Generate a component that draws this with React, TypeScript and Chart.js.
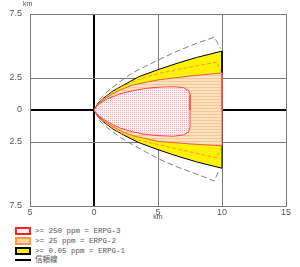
import React, { useEffect, useRef } from 'react';
import { Chart, registerables } from 'chart.js';

Chart.register(...registerables);

// axis ticks
const xTickValues = [-5, 0, 5, 10, 15];
const yTickValues = [-7.5, -2.5, 0, 2.5, 7.5];

// ERPG-1 (yellow) outer edge
const erpg1X = [0, 0.3, 0.7, 1.5, 2.5, 3.5, 5, 6.5, 8, 10, 10];
const erpg1Top = [0, 0.5, 0.9, 1.5, 2.05, 2.6, 3.15, 3.65, 4.1, 4.6, 0];
const erpg1Bottom = [0, -0.5, -0.9, -1.5, -2.05, -2.55, -3.1, -3.6, -4.05, -4.55, 0];

// ERPG-2 (orange) edge
const erpg2X = [0, 0.3, 1, 2, 3, 5, 7.5, 10, 10];
const erpg2Top = [0, 0.45, 1.0, 1.55, 1.95, 2.35, 2.65, 2.9, 0];
const erpg2Bottom = [0, -0.45, -1.0, -1.6, -2.0, -2.45, -2.65, -2.8, 0];

// ERPG-2 dashed inner line (inside yellow band)
const erpg2DashX = [0.5, 2, 3.5, 5, 7, 9.6, 9.9];
const erpg2DashTop = [0.75, 1.75, 2.4, 2.85, 3.25, 3.75, 3.0];
const erpg2DashBottom = [-0.75, -1.75, -2.35, -2.7, -3.15, -3.75, -3.0];

// ERPG-3 (pink) edge
const erpg3X = [0, 0.3, 1, 2, 3, 4, 5, 6.2, 7.0, 7.4, 7.5, 7.5];
const erpg3Top = [0, 0.4, 0.85, 1.25, 1.5, 1.68, 1.78, 1.82, 1.75, 1.5, 1.2, 0];
const erpg3Bottom = [0, -0.4, -0.9, -1.4, -1.7, -1.9, -2.0, -2.05, -1.95, -1.7, -1.3, 0];

// confidence line (信頼線)
const confX = [0.4, 1, 2, 3, 4, 5, 6.5, 8, 9.4, 9.9];
const confTop = [0.8, 1.4, 2.2, 2.9, 3.4, 3.9, 4.6, 5.2, 5.7, 4.8];
const confBottomX = [0.4, 1, 2, 3, 4, 5, 6.5, 8, 9.4, 9.7];
const confBottom = [-0.8, -1.35, -2.1, -2.7, -3.25, -3.8, -4.45, -5.0, -5.55, -4.85];

const legendLabels = [
  '>= 250 ppm = ERPG-3',
  '>= 25 ppm = ERPG-2',
  '>= 0.05 ppm = ERPG-1',
  '信頼線',
];

function pts(xs: number[], ys: number[]) {
  return xs.map((x, i) => ({ x, y: ys[i] }));
}

function makePattern(w: number, h: number, bg: string, draw: (c: CanvasRenderingContext2D) => void) {
  const c = document.createElement('canvas');
  c.width = w;
  c.height = h;
  const ctx = c.getContext('2d')!;
  ctx.fillStyle = bg;
  ctx.fillRect(0, 0, w, h);
  draw(ctx);
  return ctx.createPattern(c, 'repeat')!;
}

export default function App() {
  const ref = useRef<HTMLCanvasElement>(null);

  useEffect(() => {
    const canvas = ref.current!;
    const pink = makePattern(2, 2, '#FFF2F4', (c) => {
      c.fillStyle = '#F5A9B2';
      c.fillRect(0, 0, 1, 1);
    });
    const orange = makePattern(4, 3, '#FDE2BF', (c) => {
      c.fillStyle = '#F6C898';
      c.fillRect(0, 0, 4, 1);
    });
    const yellow = '#FFF200';

    const line = (data: any, extra: any) => ({
      data,
      showLine: true,
      pointRadius: 0,
      borderWidth: 1,
      tension: 0,
      ...extra,
    });

    const chart = new Chart(canvas, {
      type: 'scatter',
      data: {
        datasets: [
          line(pts(erpg1X, erpg1Top), { borderColor: '#000', backgroundColor: yellow, fill: 'origin', order: 6 }),
          line(pts(erpg1X, erpg1Bottom), { borderColor: '#000', backgroundColor: yellow, fill: 'origin', order: 6 }),
          line(pts(erpg2DashX, erpg2DashTop), { borderColor: '#FF9A30', borderDash: [4, 2], fill: false, order: 5 }),
          line(pts(erpg2DashX, erpg2DashBottom), { borderColor: '#FF9A30', borderDash: [4, 2], fill: false, order: 5 }),
          line(pts(erpg2X, erpg2Top), { borderColor: '#F05A4A', backgroundColor: orange, fill: 'origin', order: 4 }),
          line(pts(erpg2X, erpg2Bottom), { borderColor: '#F05A4A', backgroundColor: orange, fill: 'origin', order: 4 }),
          line(pts(erpg3X, erpg3Top), { borderColor: '#FF4848', backgroundColor: pink, fill: 'origin', order: 3 }),
          line(pts(erpg3X, erpg3Bottom), { borderColor: '#FF4848', backgroundColor: pink, fill: 'origin', order: 3 }),
          line(pts(confX, confTop), { borderColor: '#808080', borderDash: [6, 3], fill: false, order: 2 }),
          line(pts(confBottomX, confBottom), { borderColor: '#808080', borderDash: [6, 3], fill: false, order: 2 }),
        ],
      },
      options: {
        responsive: false,
        animation: false,
        events: [],
        layout: { padding: { top: 14, right: 14, left: 0, bottom: 0 } },
        plugins: { legend: { display: false }, tooltip: { enabled: false } },
        scales: {
          x: {
            type: 'linear',
            min: -5,
            max: 15,
            z: 1,
            afterBuildTicks: (s: any) => {
              s.ticks = xTickValues.map((v) => ({ value: v }));
            },
            afterFit: (s: any) => {
              s.height = 16;
            },
            grid: {
              drawTicks: false,
              color: (c: any) => (c.tick && c.tick.value === 0 ? '#000' : '#7a7a7a'),
              lineWidth: (c: any) => (c.tick && c.tick.value === 0 ? 2 : 1),
            },
            border: { color: '#7a7a7a' },
            ticks: {
              padding: 1,
              color: '#555',
              font: { family: 'Liberation Sans', size: 9 },
              callback: (v: any) => String(Math.abs(Number(v))),
              maxRotation: 0,
            },
            title: {
              display: true,
              text: 'km',
              color: '#555',
              font: { family: 'Liberation Sans', size: 7, lineHeight: 1 },
              padding: { top: 0, bottom: 1.5 },
            },
          },
          y: {
            type: 'linear',
            min: -7.5,
            max: 7.5,
            z: 1,
            afterBuildTicks: (s: any) => {
              s.ticks = yTickValues.map((v) => ({ value: v }));
            },
            afterFit: (s: any) => {
              s.width = 30;
            },
            grid: {
              drawTicks: false,
              color: (c: any) => (c.tick && c.tick.value === 0 ? '#000' : '#7a7a7a'),
              lineWidth: (c: any) => (c.tick && c.tick.value === 0 ? 2 : 1),
            },
            border: { color: '#7a7a7a' },
            ticks: {
              padding: 8,
              color: '#555',
              font: { family: 'Liberation Sans', size: 9 },
              callback: (v: any) => String(Math.abs(Number(v))),
            },
          },
        },
      },
    } as any);
    return () => chart.destroy();
  }, []);

  const boxes = [
    { border: '#FF2020', fill: '#FFF0F2' },
    { border: '#FF9A40', fill: '#FAD3A6' },
    { border: '#000', fill: '#FFF200' },
  ];
  const rowTops = [226, 236, 246, 255];

  return (
    <div style={{ position: 'absolute', left: 0, top: 0, width: 300, height: 267, background: '#fff', overflow: 'hidden' }}>
      <canvas ref={ref} width={300} height={222} style={{ display: 'block', width: 300, height: 222 }} />
      <span
        style={{
          position: 'absolute',
          left: 23,
          top: 0,
          fontFamily: 'Liberation Sans',
          fontSize: 7,
          lineHeight: '7px',
          color: '#555',
        }}
      >
        km
      </span>
      {legendLabels.map((label, i) => (
        <div
          key={i}
          style={{
            position: 'absolute',
            left: 15,
            top: rowTops[i],
            height: 10,
            display: 'flex',
            alignItems: 'center',
            whiteSpace: 'nowrap',
          }}
        >
          {i < 3 ? (
            <div
              style={{
                width: 12,
                height: 4,
                border: `2px solid ${boxes[i].border}`,
                background: boxes[i].fill,
              }}
            />
          ) : (
            <div style={{ width: 16, height: 2, background: '#000' }} />
          )}
          <span
            style={{
              marginLeft: 4,
              fontFamily: 'Liberation Mono, "Noto Sans CJK JP"',
              fontSize: 7.5,
              lineHeight: '10px',
              color: '#555',
            }}
          >
            {label}
          </span>
        </div>
      ))}
    </div>
  );
}
